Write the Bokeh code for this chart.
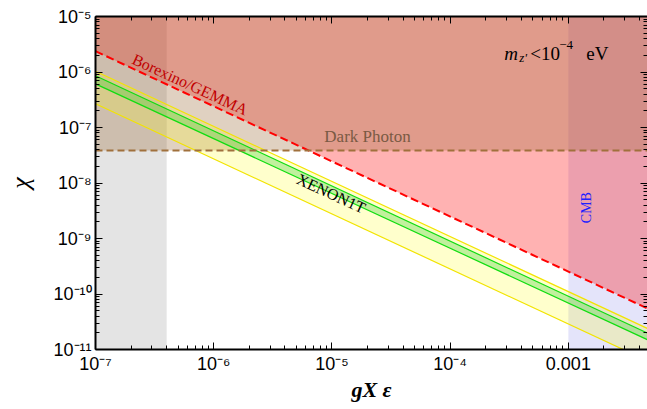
from bokeh.plotting import figure
from bokeh.models import LogAxis, FixedTicker, CustomJSTickFormatter, Range1d
from bokeh.core.properties import value
from bokeh.embed import file_html
from bokeh.resources import INLINE

# ---------------- data ----------------
x_min, x_max = 1e-7, 4.67e-3
y_min, y_max = 1e-11, 1e-5

line_x = [1e-7, 4.67e-3]
borexino_chi = [2.37e-6, 5.48e-11]
xenon_1s_hi = [8.55e-7, 1.97e-11]
xenon_1s_lo = [6.12e-7, 1.50e-11]
xenon_2s_hi = [1.03e-6, 2.39e-11]
xenon_2s_lo = [2.67e-7, 6.25e-12]
dark_photon_chi = 3.85e-8
low_g_band = [1e-7, 4.0e-7]
cmb_band = [1e-3, 4.67e-3]

x_tick_vals = [1e-7, 1e-6, 1e-5, 1e-4, 1e-3]
x_tick_labels = ["10\u207b\u2077", "10\u207b\u2076", "10\u207b\u2075", "10\u207b\u2074", "0.001"]
y_tick_vals = [1e-11, 1e-10, 1e-9, 1e-8, 1e-7, 1e-6, 1e-5]
y_tick_labels = ["10\u207b\u00b9\u00b9", "10\u207b\u00b9\u2070", "10\u207b\u2079", "10\u207b\u2078",
                 "10\u207b\u2077", "10\u207b\u2076", "10\u207b\u2075"]

SERIF = "Liberation Serif"
SANS = "Liberation Sans"

p = figure(width=647, height=407, x_axis_type="log", y_axis_type="log",
           x_range=Range1d(x_min, x_max), y_range=Range1d(y_min, y_max),
           output_backend="svg", toolbar_location=None,
           min_border_left=95, min_border_right=0, min_border_top=16, min_border_bottom=58)
p.grid.visible = False
p.outline_line_color = None
p.background_fill_color = "white"

# ---------------- regions ----------------
p.quad(left=low_g_band[0], right=low_g_band[1], bottom=y_min, top=y_max,
       fill_color="#e4e4e4", line_color=None)
p.quad(left=cmb_band[0], right=cmb_band[1], bottom=y_min, top=y_max,
       fill_color="#e4e4fa", line_color=None)
p.varea(x=line_x, y1=borexino_chi, y2=[y_max, y_max], fill_color="#ff0000", fill_alpha=0.3)
p.quad(left=x_min, right=x_max, bottom=dark_photon_chi, top=y_max,
       fill_color="#996633", fill_alpha=0.3, line_color=None)
p.varea(x=line_x, y1=xenon_2s_lo, y2=xenon_2s_hi, fill_color="#ffff00", fill_alpha=0.2)
p.varea(x=line_x, y1=xenon_1s_lo, y2=xenon_1s_hi, fill_color="#32cd32", fill_alpha=0.3)

for ys in (xenon_2s_lo, xenon_2s_hi):
    p.line(line_x, ys, line_color="#f2e400", line_width=1.2)
for ys in (xenon_1s_lo, xenon_1s_hi):
    p.line(line_x, ys, line_color="#10dd10", line_width=1.2)
p.line(line_x, borexino_chi, line_color="#ff0000", line_width=2, line_dash="8 4")
p.line([x_min, x_max], [dark_photon_chi, dark_photon_chi], line_color="#a0703c",
       line_width=2, line_dash="7 4")

# ---------------- in-plot text ----------------
ang = -0.431
p.text(x=[6.32e-7], y=[5.96e-7], text=["Borexino/GEMMA"], angle=ang,
       text_font=value(SERIF), text_font_size="16px", text_color="#c00000",
       text_align="center", text_baseline="middle")
p.text(x=[9.87e-6], y=[6.47e-9], text=["XENON1T"], angle=ang,
       text_font=value(SERIF), text_font_size="16px", text_color="black",
       text_align="center", text_baseline="middle")
p.text(x=[2.0e-5], y=[6.9e-8], text=["Dark Photon"],
       text_font=value(SERIF), text_font_size="17px", text_color="#7a5a44",
       text_align="center", text_baseline="middle")
p.text(x=[1.42e-3], y=[3.6e-9], text=["CMB"], angle=1.5708,
       text_font=value(SERIF), text_font_size="14px", text_color="#2020ff",
       text_align="center", text_baseline="middle")

mx, my = 2.87e-4, 2.18e-6
pieces = [("m", 0, 0, "19px", "italic"), ("z'", 15, 4, "13px", "italic"),
          ("<10", 26, 0, "19px", "normal"), ("\u22124", 55, -8, "13px", "normal"),
          ("eV", 82, 0, "19px", "normal")]
for t, dx, dy, fs, st in pieces:
    p.text(x=[mx], y=[my], text=[t], x_offset=dx, y_offset=dy,
           text_font=value(SERIF), text_font_size=fs, text_font_style=st,
           text_color="black", text_align="left", text_baseline="alphabetic")

# ---------------- axes ----------------
minor = [k * 10.0 ** e for e in range(-12, -1) for k in range(2, 10)]
xt = FixedTicker(ticks=x_tick_vals, minor_ticks=minor)
yt = FixedTicker(ticks=y_tick_vals, minor_ticks=minor)
code = """
const i = vals.findIndex(v => Math.abs(Math.log10(v) - Math.log10(tick)) < 1e-6);
return i >= 0 ? labels[i] : "";
"""
fx = CustomJSTickFormatter(args=dict(vals=x_tick_vals, labels=x_tick_labels), code=code)
fy = CustomJSTickFormatter(args=dict(vals=y_tick_vals, labels=y_tick_labels), code=code)

def style(ax, ticker):
    ax.ticker = ticker
    ax.axis_line_width = 2
    ax.axis_line_color = "black"
    ax.major_tick_in = 7
    ax.major_tick_out = 0
    ax.minor_tick_in = 4
    ax.minor_tick_out = 0
    ax.major_tick_line_color = "black"
    ax.minor_tick_line_color = "black"
    ax.major_label_text_font = SANS
    ax.major_label_text_font_size = "18px"
    ax.major_label_text_color = "black"

xa = p.xaxis[0]
style(xa, xt)
xa.formatter = fx
xa.major_label_standoff = 4
xa.axis_label = "gX \u03b5"
xa.axis_label_text_font = SERIF
xa.axis_label_text_font_style = "bold italic"
xa.axis_label_text_font_size = "22px"
xa.axis_label_text_color = "black"
xa.axis_label_standoff = 0

ya = p.yaxis[0]
style(ya, yt)
ya.formatter = fy
ya.major_label_standoff = 4
ya.axis_label = "\u03c7"
ya.axis_label_text_font = SERIF
ya.axis_label_text_font_style = "italic"
ya.axis_label_text_font_size = "26px"
ya.axis_label_text_color = "black"
ya.axis_label_standoff = 15

top = LogAxis()
style(top, xt)
top.major_label_text_font_size = "1px"
top.major_label_text_color = None
top.major_label_standoff = 0
p.add_layout(top, "above")

right = LogAxis()
style(right, yt)
right.axis_line_color = None
right.major_label_text_font_size = "1px"
right.major_label_text_color = None
right.major_label_standoff = 0
p.add_layout(right, "right")

open("out.html", "w").write(file_html(p, INLINE))
